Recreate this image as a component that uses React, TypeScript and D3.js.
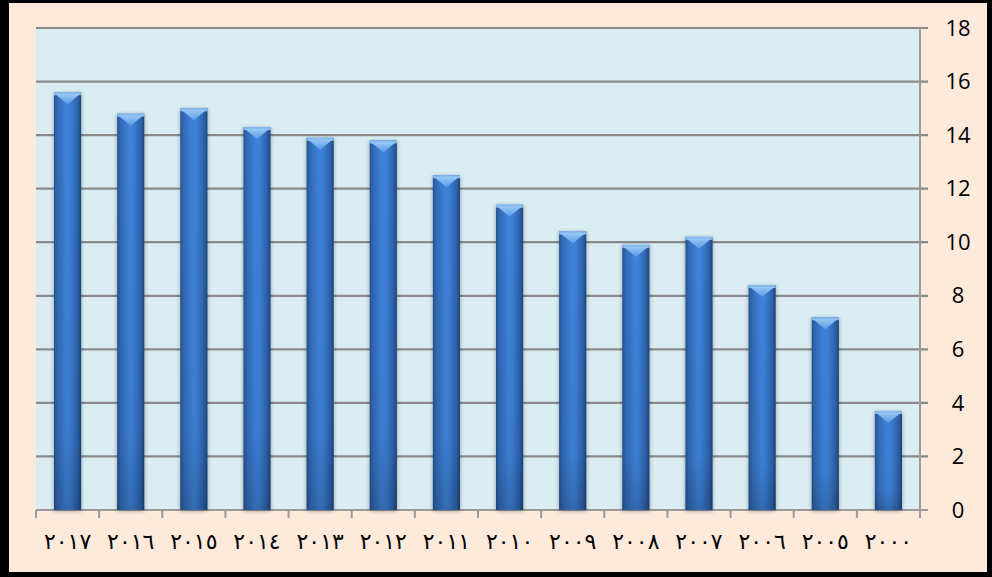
import React from "react";
import * as d3 from "d3";

const categories = ["٢٠١٧", "٢٠١٦", "٢٠١٥", "٢٠١٤", "٢٠١٣", "٢٠١٢", "٢٠١١", "٢٠١٠", "٢٠٠٩", "٢٠٠٨", "٢٠٠٧", "٢٠٠٦", "٢٠٠٥", "٢٠٠٠"];
const values = [15.6, 14.8, 15.0, 14.3, 13.9, 13.8, 12.5, 11.4, 10.4, 9.9, 10.2, 8.4, 7.2, 3.7];
const yTicks = [0, 2, 4, 6, 8, 10, 12, 14, 16, 18];

const W = 992, H = 577;
const plot = { left: 36, right: 920, top: 28, bottom: 510 };

export default function App() {
  const x = d3.scaleBand<string>().domain(categories).range([plot.left, plot.right]).paddingInner(0.57).paddingOuter(0.285);
  const y = d3.scaleLinear().domain([0, 18]).range([plot.bottom, plot.top]);
  const bw = x.bandwidth();
  const boundaries = d3.range(categories.length + 1).map((i) => plot.left + (i * (plot.right - plot.left)) / categories.length);

  return (
    <div style={{ position: "absolute", left: 0, top: 0 }}>
      <svg width={W} height={H}>
        <defs>
          <linearGradient id="barH" x1="0" x2="1" y1="0" y2="0">
            <stop offset="0" stopColor="#24538f" />
            <stop offset="0.12" stopColor="#3169b5" />
            <stop offset="0.45" stopColor="#3e83da" />
            <stop offset="0.6" stopColor="#3c80d6" />
            <stop offset="0.88" stopColor="#2d61a9" />
            <stop offset="1" stopColor="#1d447c" />
          </linearGradient>
          <linearGradient id="barV" x1="0" x2="0" y1="0" y2="1">
            <stop offset="0" stopColor="#000" stopOpacity="0" />
            <stop offset="0.8" stopColor="#000" stopOpacity="0.05" />
            <stop offset="1" stopColor="#000" stopOpacity="0.18" />
          </linearGradient>
          <linearGradient id="cap" x1="0" x2="0" y1="0" y2="1">
            <stop offset="0" stopColor="#9ccaf7" />
            <stop offset="1" stopColor="#5a9be6" />
          </linearGradient>
          <filter id="sh" x="-30%" y="-10%" width="160%" height="120%">
            <feGaussianBlur in="SourceAlpha" stdDeviation="2" />
            <feOffset dx="0" dy="1" result="b" />
            <feComponentTransfer><feFuncA type="linear" slope="0.35" /></feComponentTransfer>
            <feMerge><feMergeNode /><feMergeNode in="SourceGraphic" /></feMerge>
          </filter>
        </defs>
        <rect x={0} y={0} width={W} height={H} fill="#000" />
        <rect x={9} y={3} width={978} height={569} fill="#fdeadb" />
        <rect x={plot.left} y={plot.top} width={plot.right - plot.left} height={plot.bottom - plot.top} fill="#daedf3" />
        {yTicks.map((t) => (
          <line key={"g" + t} x1={plot.left} x2={plot.right + 8} y1={y(t)} y2={y(t)} stroke="#8a8a8a" strokeWidth={2.2} />
        ))}
        <line x1={plot.right} x2={plot.right} y1={plot.top} y2={plot.bottom} stroke="#9a9a9a" strokeWidth={2} />
        {boundaries.map((b, i) => (
          <line key={"xt" + i} x1={b} x2={b} y1={plot.bottom} y2={plot.bottom + 8} stroke="#9a9a9a" strokeWidth={2} />
        ))}
        <line x1={plot.left} x2={plot.right + 8} y1={plot.bottom} y2={plot.bottom} stroke="#9a9a9a" strokeWidth={2} />
        {categories.map((c, i) => {
          const bx = x(c)!;
          const top = y(values[i]);
          const h = plot.bottom - top;
          const capH = 12;
          return (
            <g key={c} filter="url(#sh)">
              <rect x={bx} y={top} width={bw} height={h} fill="url(#barH)" />
              <rect x={bx} y={top} width={bw} height={h} fill="url(#barV)" />
              <rect x={bx} y={top} width={bw} height={3} fill="#86bbf0" />
              <path d={`M${bx + 1.5},${top + 2} L${bx + bw - 1.5},${top + 2} L${bx + bw / 2},${top + capH} Z`} fill="url(#cap)" opacity={0.95} />
            </g>
          );
        })}
        {yTicks.map((t) => (
          <text key={"yl" + t} x={958} y={y(t)} dy="0.35em" textAnchor="middle" fontFamily="'Open Sans', 'Liberation Sans', sans-serif" fontSize={22} fill="#000">{t}</text>
        ))}
        {categories.map((c) => (
          <text key={"xl" + c} x={x(c)! + bw / 2} y={541} dy="0.35em" textAnchor="middle" fontFamily="'DejaVu Sans', serif" fontSize={22} letterSpacing={4} fill="#000" direction="ltr">{c}</text>
        ))}
      </svg>
    </div>
  );
}
